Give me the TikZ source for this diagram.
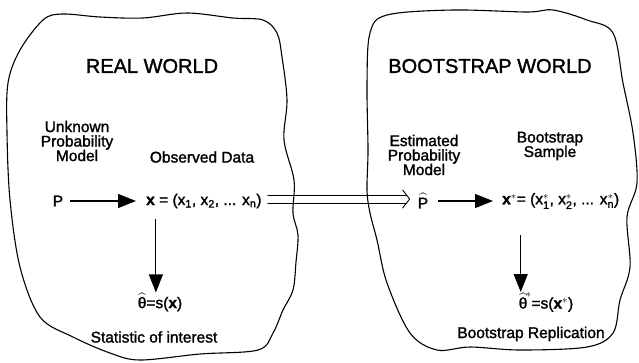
\documentclass[tikz,border=0pt]{standalone}
\usepackage{fontspec}
\usepackage{amsmath}
\setmainfont{Liberation Sans}[FakeBold=1.5]
\usetikzlibrary{arrows.meta}
\tikzset{
  blob/.style={draw, line width=1.1pt, line join=round},
  head/.style={font=\fontsize{20}{22}\selectfont},
  lab/.style={font=\fontsize{15.5}{14.5}\selectfont, align=center, inner sep=0pt},
  row/.style={font=\fontsize{15.5}{17}\selectfont, inner sep=0pt},
  arr/.style={line width=1.2pt, -{Triangle[length=18pt,width=14pt]}},
  dline/.style={line width=0.9pt, line cap=round, line join=round}
}
\begin{document}
\begin{tikzpicture}[x=1pt,y=-1pt]
\useasboundingbox (0,0) rectangle (639,362);
% left blob
\draw[blob] plot[smooth cycle, tension=0.55] coordinates {
 (43,20) (62,14) (100,17) (143,18) (187,13) (233,18) (263,20) (277,33) (282,57)
 (287,100) (284,140) (294,180) (293,213) (298,235) (296,262) (293,290) (283,310)
 (273,333) (258,350) (200,354) (140,360) (110,353) (73,337) (40,317) (20,267)
 (10,200) (7,133) (8,83) (20,50)};
% right blob
\draw[blob] plot[smooth cycle, tension=0.55] coordinates {
 (370,33) (387,15) (453,10) (527,12) (553,10) (587,20) (613,33) (623,83)
 (633,133) (637,183) (627,217) (630,267) (620,300) (613,333) (587,347)
 (520,350) (470,347) (437,350) (410,333) (387,283) (377,240) (370,213)
 (367,190) (368,150) (367,83)};
% real world
\node[head] (rw) at (152,66) {REAL WORLD};
\node[lab] (upm) at (77,141) {Unknown\\Probability\\Model};
\node[lab] (od) at (202,157) {Observed Data};
\node[row] (p) at (58,201) {P};
\node[row, anchor=west] (x) at (146,201) {\textbf{x} = (x$_{\text{1}}$, x$_{\text{2}}$, ... x$_{\text{n}}$)};
\node[row] (th) at (160,302) {$\widehat{\text{θ}}$=s(\textbf{x})};
\node[lab] (soi) at (154,337) {Statistic of interest};
% bootstrap world
\node[head] (bw) at (490,66) {BOOTSTRAP WORLD};
\node[lab] (epm) at (424,155) {Estimated\\Probability\\Model};
\node[lab] (bs) at (550,146) {Bootstrap\\Sample};
\node[row] (ph) at (423,201) {$\widehat{\text{P}}$};
\node[row, anchor=west] (xs) at (502,201) {\textbf{x}$^{*}$= (x$^{*}_{\text{1}}$, x$^{*}_{\text{2}}$, ... x$^{*}_{\text{n}}$)};
\node[row] (ths) at (546,302) {$\widehat{\text{θ}}^{\!*}$=s(\textbf{x}$^{*}$)};
\node[lab] (br) at (531,334) {Bootstrap Replication};
% connectors
\draw[arr] ([xshift=7pt]p.east) -- ([xshift=-10pt]x.west);
\draw[arr] ([xshift=-48pt,yshift=-11pt]x.south) coordinate (d1) -- (d1 |- th.north);
\coordinate (da) at ([xshift=6pt,yshift=2pt]x.east);
\coordinate (db) at ([xshift=-8pt,yshift=2pt]ph.west);
\draw[dline] ([yshift=4pt]da) -- ([yshift=4pt,xshift=-3pt]db);
\draw[dline] ([yshift=-4pt]da) -- ([yshift=-4pt,xshift=-3pt]db);
\draw[dline] ([xshift=-7pt,yshift=9pt]db) -- (db) -- ([xshift=-7pt,yshift=-9pt]db);
\draw[arr] ([xshift=10pt]ph.east) -- ([xshift=-9pt]xs.west);
\draw[arr] ([xshift=-40pt,yshift=-26pt]xs.south) coordinate (d2) -- (d2 |- ths.north);
\end{tikzpicture}
\end{document}
